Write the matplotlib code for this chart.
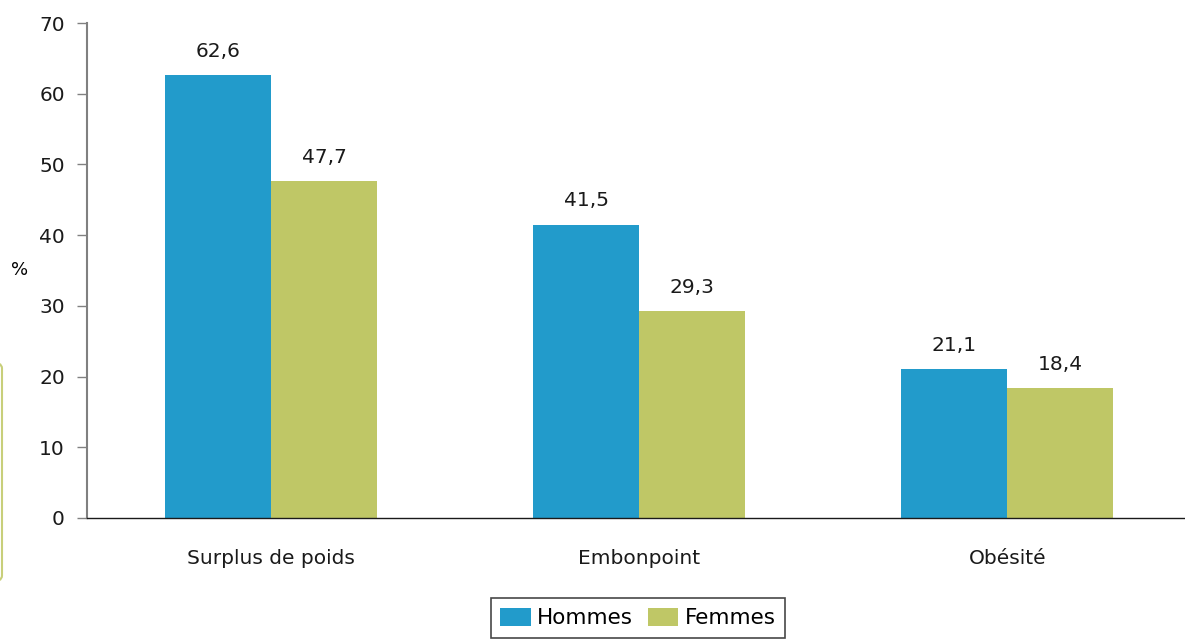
import numpy as np
import matplotlib.pyplot as plt
from matplotlib.patches import FancyBboxPatch

categories = ["Surplus de poids", "Embonpoint", "Obésité"]
hommes = [62.6, 41.5, 21.1]
femmes = [47.7, 29.3, 18.4]
yticks = [0, 10, 20, 30, 40, 50, 60, 70]

blue = "#229bcb"
green = "#bfc766"

plt.rcParams['font.family'] = ['DejaVu Sans']

fig = plt.figure(figsize=(11.85, 6.39), dpi=100)
ax = fig.add_axes([0.0734, 0.1894, 0.932, 0.7746])

x = np.arange(len(categories))
w = 0.288
b1 = ax.bar(x - w / 2, hommes, w, color=blue, label="Hommes")
b2 = ax.bar(x + w / 2, femmes, w, color=green, label="Femmes")

for bars, vals in ((b1, hommes), (b2, femmes)):
    for r, v in zip(bars, vals):
        ax.text(r.get_x() + r.get_width() / 2, v + 2.0, f"{v:.1f}".replace(".", ","),
                ha="center", va="bottom", fontsize=14.5, color="#1a1a1a")

ax.set_xlim(-0.5, 2.5)
ax.set_ylim(0, 70)
ax.set_yticks(yticks)
ax.set_xticks(x)
ax.set_xticklabels(categories, fontsize=14.5, color="#1a1a1a")
ax.tick_params(axis="x", length=0, pad=22)
ax.tick_params(axis="y", length=7, width=1, color="#808080", labelsize=14.5,
               labelcolor="#1a1a1a", pad=9)
for s in ("top", "right"):
    ax.spines[s].set_visible(False)
ax.spines["left"].set_color("#808080")
ax.spines["left"].set_linewidth(1.5)
ax.spines["bottom"].set_color("#1a1a1a")
ax.spines["bottom"].set_linewidth(1)

fig.text(20 / 1185, 1 - 270 / 639, "%", fontsize=13, ha="center", va="center")

# box edge cut off at the left side
fig.patches.append(FancyBboxPatch((-0.05, 1 - 582 / 639), 0.05 + 2 / 1185, 220 / 639,
                                  boxstyle="round,pad=0,rounding_size=0.01",
                                  transform=fig.transFigure, fill=False,
                                  edgecolor="#c8cf7a", linewidth=1.5))

leg = fig.legend(loc="upper center", bbox_to_anchor=(638 / 1185, 1 - 598 / 639),
                 ncol=2, fontsize=15.5, frameon=True, fancybox=False,
                 edgecolor="#1a1a1a", handlelength=1.4, handleheight=0.9,
                 handletextpad=0.3, columnspacing=0.7, borderpad=0.45,
                 borderaxespad=0)
leg.get_frame().set_linewidth(1.2)

fig.savefig("out.png", dpi=100)
